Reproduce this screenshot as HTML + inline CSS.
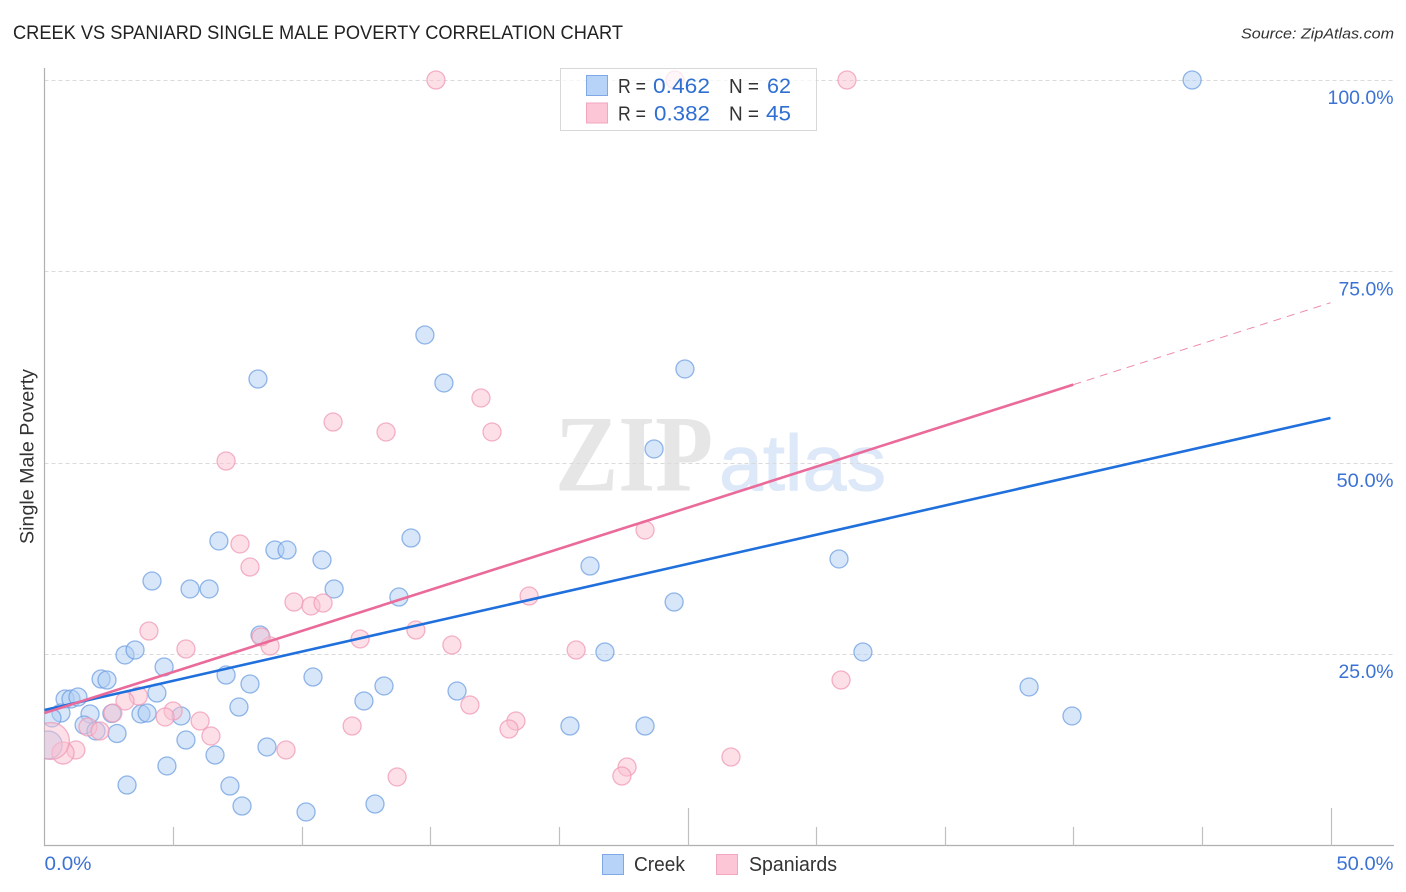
<!DOCTYPE html>
<html lang="en">
<head>
<meta charset="utf-8">
<title>Creek vs Spaniard Single Male Poverty Correlation Chart</title>
<style>
html,body{margin:0;padding:0;background:#fff;width:1406px;height:892px;overflow:hidden}
svg{display:block}
text{font-family:"Liberation Sans",sans-serif}
</style>
</head>
<body>
<svg id="chart" xmlns="http://www.w3.org/2000/svg" width="1406" height="892" viewBox="0 0 1406 892">
  <defs>
    <clipPath id="plot-clip"><rect x="44.5" y="60" width="1350" height="785.5"/></clipPath>
  </defs>
  <rect x="0" y="0" width="1406" height="892" fill="#ffffff"/>
  <text x="13" y="39" font-size="19" fill="#222222" textLength="610" lengthAdjust="spacingAndGlyphs">CREEK VS SPANIARD SINGLE MALE POVERTY CORRELATION CHART</text>
  <text x="1241" y="38.5" font-size="15" font-style="italic" fill="#333333" textLength="153" lengthAdjust="spacingAndGlyphs">Source: ZipAtlas.com</text>
  <text transform="translate(33.5,544) rotate(-90)" x="0" y="0" font-size="19" fill="#333333" textLength="175" lengthAdjust="spacingAndGlyphs">Single Male Poverty</text>

  <g>
    <text x="555" y="490.5" style="font-family:'Liberation Serif',serif;font-weight:bold" font-size="109" fill="#e6e6e6" textLength="158" lengthAdjust="spacingAndGlyphs">ZIP</text>
    <text x="719" y="490" font-size="79" fill="#dde8f8" stroke="#dde8f8" stroke-width="1" textLength="167" lengthAdjust="spacingAndGlyphs">atlas</text>
  </g>

  <g id="grid"></g>
  <g id="axes"></g>
  <g id="points" clip-path="url(#plot-clip)"></g>
  <g id="trends"></g>
  <g id="tick-labels"></g>

  <g>
    <rect x="560.5" y="68.5" width="256" height="62" fill="#ffffff" fill-opacity="0.72" stroke="#d8d8d8" stroke-width="1"/>
    <rect x="586.5" y="75.5" width="21" height="20" fill="#b7d3f7" stroke="#7fa9e4"/>
    <text x="618" y="93" font-size="20" fill="#333333" textLength="28" lengthAdjust="spacingAndGlyphs">R =</text>
    <text x="653" y="93" font-size="21" fill="#2f6fd2" textLength="57" lengthAdjust="spacingAndGlyphs">0.462</text>
    <text x="729" y="93" font-size="20" fill="#333333" textLength="30" lengthAdjust="spacingAndGlyphs">N =</text>
    <text x="767" y="93" font-size="21" fill="#2f6fd2" textLength="24" lengthAdjust="spacingAndGlyphs">62</text>
    <rect x="586.5" y="103" width="21" height="20" fill="#fcc6d6" stroke="#f2a6bf"/>
    <text x="618" y="120.5" font-size="20" fill="#333333" textLength="28" lengthAdjust="spacingAndGlyphs">R =</text>
    <text x="654" y="120.5" font-size="21" fill="#2f6fd2" textLength="56" lengthAdjust="spacingAndGlyphs">0.382</text>
    <text x="729" y="120.5" font-size="20" fill="#333333" textLength="30" lengthAdjust="spacingAndGlyphs">N =</text>
    <text x="766" y="120.5" font-size="21" fill="#2f6fd2" textLength="25" lengthAdjust="spacingAndGlyphs">45</text>
  </g>

  <g>
    <g>
      <rect x="602.5" y="854.5" width="21" height="20" fill="#b7d3f7" stroke="#7fa9e4"/>
      <text x="634" y="871" font-size="20" fill="#333333" textLength="51" lengthAdjust="spacingAndGlyphs">Creek</text>
    </g>
    <g>
      <rect x="716.5" y="854.5" width="21" height="20" fill="#fcc6d6" stroke="#f2a6bf"/>
      <text x="749" y="871" font-size="20" fill="#333333" textLength="88" lengthAdjust="spacingAndGlyphs">Spaniards</text>
    </g>
  </g>
</svg>

<script>
const creekX = [3.13,3.52,4.65,2.20,2.43,0.80,1.03,1.30,4.37,7.06,7.99,10.44,7.56,0.64,0.29,1.77,2.62,3.75,3.99,5.31,1.54,2.00,2.82,5.50,0.14,8.65,6.63,4.76,3.21,7.21,7.68,10.17,4.18,5.66,6.40,6.78,8.96,9.43,10.79,11.26,13.78,14.25,8.30,14.79,15.53,23.70,24.90,21.21,24.48,30.89,21.79,31.82,38.28,39.95,20.43,23.35,16.04,13.20,12.42,12.85,8.38,44.62];
const creekY = [24.89,25.54,23.32,21.75,21.62,19.14,19.14,19.40,19.92,22.27,21.10,22.01,18.09,17.31,16.66,17.18,17.24,17.18,17.31,16.92,15.74,14.96,14.63,13.78,13.13,12.87,11.82,10.39,7.90,7.77,5.16,4.38,34.55,33.51,33.51,39.78,38.60,38.60,37.30,33.51,32.46,40.17,60.94,66.69,60.42,51.80,62.25,36.51,31.81,37.43,25.28,25.28,20.71,16.92,15.61,15.61,20.18,20.84,18.88,5.42,27.50,100];
const creekWeight = [1,1,1,1,1,1,1,1,1,1,1,1,1,1,1,1,1,1,1,1,1,1,1,1,2.42,1,1,1,1,1,1,1,1,1,1,1,1,1,1,1,1,1,1,1,1,1,1,1,1,1,1,1,1,1,1,1,1,1,1,1,1,1];
const spaniardX = [5.50,8.77,3.65,3.13,2.66,5.00,4.69,6.05,6.47,1.69,2.16,9.39,1.22,0.72,0.25,11.96,4.06,7.06,11.22,13.28,16.97,17.40,7.60,7.99,9.70,10.36,10.83,12.27,14.44,15.84,18.84,23.35,20.67,8.42,30.97,16.54,18.33,18.06,13.71,22.65,22.45,26.69,15.22,31.20,24.51];
const spaniardY = [25.67,26.06,19.53,18.88,17.31,17.57,16.79,16.26,14.30,15.48,14.96,12.48,12.48,12.08,13.65,15.61,28.02,50.23,55.32,54.02,58.46,54.02,39.39,36.38,31.81,31.29,31.68,26.98,28.15,26.19,32.59,41.21,25.54,27.24,21.62,18.35,16.26,15.22,8.95,10.25,9.08,11.56,100,100,100];
const spaniardWeight = [1,1,1,1,1,1,1,1,1,1,1,1,1,1.5,4.2,1,1,1,1,1,1,1,1,1,1,1,1,1,1,1,1,1,1,1,1,1,1,1,1,1,1,1,1,1,1];
const creekTrendX = [0,50];
const creekTrendY = [17.7,55.85];
const spaniardTrendX = [0,40];
const spaniardTrendY = [17.3,60.2];
const spaniardForecastX = [40,50];
const spaniardForecastY = [60.2,70.9];
const yTickValues = [25,50,75,100];
const yTickLabels = ["25.0%","50.0%","75.0%","100.0%"];
const xTickValues = [5,10,15,20,25,30,35,40,45,50];
const xMajorTickValues = [25,50];
const xEdgeValues = [0,50];
const xEdgeLabels = ["0.0%","50.0%"];

const NS = "http://www.w3.org/2000/svg";
function xScale(v){ return 44.5 + v * 25.72; }
function yScale(v){ return 845.5 - v * 7.655; }
function radius(w){ return 9 * Math.sqrt(w); }
function labelWidth(s){ return s.length > 5 ? 66 : (s.charAt(0) === "5" ? 57 : (s.length === 4 ? 47 : 55)); }
function make(tag, attrs, parent){
  const el = document.createElementNS(NS, tag);
  for (const k in attrs) el.setAttribute(k, attrs[k]);
  parent.appendChild(el);
  return el;
}

const grid = document.getElementById("grid");
yTickValues.forEach(function(v){
  const y = Math.round(yScale(v)) + 0.5;
  const line = make("line", {x1:44.5, x2:1394, y1:y, y2:y, stroke:"#dadada", "stroke-width":1, "stroke-dasharray":"4 3"}, grid);
  
  
});

const axes = document.getElementById("axes");
const yAxis = make("line", {x1:44.5, x2:44.5, y1:68, y2:846, stroke:"#b0b0b0", "stroke-width":1.2}, axes);


const xAxis = make("line", {x1:44, x2:1394, y1:845.5, y2:845.5, stroke:"#b0b0b0", "stroke-width":1.2}, axes);


xTickValues.forEach(function(v){
  const x = Math.round(xScale(v)) + 0.5;
  const top = xMajorTickValues.indexOf(v) >= 0 ? 808 : 827;
  const tick = make("line", {x1:x, x2:x, y1:top, y2:845.5, stroke:"#c0c0c0", "stroke-width":1.2}, axes);
  
  
});

const pts = document.getElementById("points");
function drawSeries(xs, ys, ws, fill, stroke, name){
  xs.forEach(function(v, i){
    const c = make("circle", {cx:xScale(v), cy:yScale(ys[i]), r:radius(ws[i]), fill:fill, "fill-opacity":0.5, stroke:stroke, "stroke-opacity":0.75, "stroke-width":1.3}, pts);
    
    
  });
}
drawSeries(creekX, creekY, creekWeight, "#b0cdf4", "#6f9fe2", "creek-point");
drawSeries(spaniardX, spaniardY, spaniardWeight, "#fac0d0", "#f09ab6", "spaniard-point");

const trends = document.getElementById("trends");
const creekLine = make("line", {x1:xScale(creekTrendX[0]), y1:yScale(creekTrendY[0]), x2:xScale(creekTrendX[1]), y2:yScale(creekTrendY[1]), stroke:"#1f6fdc", "stroke-width":2.6}, trends);


const spaniardForecast = make("line", {x1:xScale(spaniardForecastX[0]), y1:yScale(spaniardForecastY[0]), x2:xScale(spaniardForecastX[1]), y2:yScale(spaniardForecastY[1]), stroke:"#ea6a9a", "stroke-width":1, "stroke-dasharray":"8 6", "stroke-opacity":0.8}, trends);


const spaniardLine = make("line", {x1:xScale(spaniardTrendX[0]), y1:yScale(spaniardTrendY[0]), x2:xScale(spaniardTrendX[1]), y2:yScale(spaniardTrendY[1]), stroke:"#ea6a9a", "stroke-width":2.6}, trends);



const labels = document.getElementById("tick-labels");
yTickValues.forEach(function(v, i){
  const w = labelWidth(yTickLabels[i]);
  const t = make("text", {x:1393.5 - w, y:yScale(v) + 24, "font-size":19.5, fill:"#3b72d4", textLength:w, lengthAdjust:"spacingAndGlyphs"}, labels);
  
  
  t.textContent = yTickLabels[i];
});
const edge0 = make("text", {x:xScale(xEdgeValues[0]), y:870, "font-size":19.5, fill:"#3b72d4", textLength:labelWidth(xEdgeLabels[0]), lengthAdjust:"spacingAndGlyphs"}, labels);


edge0.textContent = xEdgeLabels[0];
const edge1Width = labelWidth(xEdgeLabels[1]);
const edge1 = make("text", {x:xScale(xEdgeValues[1]) + 63 - edge1Width, y:870, "font-size":19.5, fill:"#3b72d4", textLength:edge1Width, lengthAdjust:"spacingAndGlyphs"}, labels);


edge1.textContent = xEdgeLabels[1];
</script>
</body>
</html>
